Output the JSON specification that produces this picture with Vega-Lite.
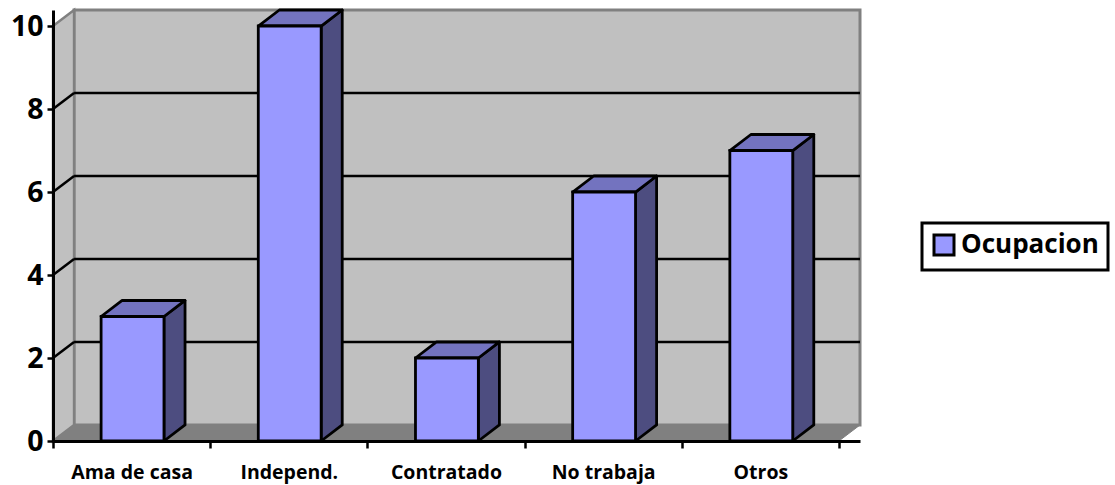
{
 "$schema":"https://vega.github.io/schema/vega-lite/v6.json",
 "autosize":{"type":"none"},
 "padding":{"left":53,"top":10,"right":255,"bottom":44},
 "width":807,"height":431,
 "background":"white",
 "config":{"view":{"stroke":null},"font":"Lato",
  "legend":{"strokeColor":"black","strokeWidth":3,"fillColor":"white"}},
 "datasets":{"depth":[{"d":0},{"d":1}],"ticks":[{"t":2},{"t":4},{"t":6},{"t":8}]},
 "data":{"values":[
  {"categoria":"Ama de casa","valor":3},
  {"categoria":"Independ.","valor":10},
  {"categoria":"Contratado","valor":2},
  {"categoria":"No trabaja","valor":6},
  {"categoria":"Otros","valor":7}]},
 "transform":[{"window":[{"op":"row_number","as":"n"}]},{"calculate":"datum.n-1","as":"idx"}],
 "layer":[
  {"data":{"values":[{"a":1}]},
   "mark":{"type":"rect","fill":"#C0C0C0","stroke":"#808080","strokeWidth":3},
   "encoding":{
    "x":{"datum":0.134,"type":"quantitative","scale":{"domain":[0,5.134],"nice":false,"zero":false},
     "axis":{"title":null,"values":[0,0.5,1,1.5,2,2.5,3,3.5,4,4.5,5],"grid":false,"domainColor":"black","domainWidth":3,"tickColor":"black","tickWidth":2.5,"tickSize":7,
      "tickOpacity":{"expr":"datum.value % 1 == 0 ? 1 : 0"},
      "labelExpr":"datum.value % 1 == 0 ? '' : ['Ama de casa','Independ.','Contratado','No trabaja','Otros'][floor(datum.value)]",
      "labelFont":"Open Sans","labelFontWeight":"bold","labelFontSize":19.5,"labelColor":"black","labelPadding":15,"labelOverlap":false,"labelBound":false,"labelFlush":false,"zindex":1}},
    "x2":{"datum":5.134},
    "y":{"datum":0.386,"type":"quantitative","scale":{"domain":[0,10.386],"nice":false,"zero":false},
     "axis":{"title":null,"values":[0,2,4,6,8,10],"grid":false,"domainColor":"black","domainWidth":3,"tickColor":"black","tickWidth":2.5,"tickSize":6,
      "labelFont":"Open Sans","labelFontWeight":"bold","labelFontSize":28.5,"labelColor":"black","labelPadding":4,"labelOverlap":false,"labelBound":false,"labelFlush":false,"zindex":1}},
    "y2":{"datum":10.386}}},
  {"data":{"name":"depth"},
   "transform":[{"calculate":"datum.d*0.134","as":"x"},{"calculate":"10+datum.d*0.386","as":"y1"},{"calculate":"datum.d*0.386","as":"y0"}],
   "mark":{"type":"area","orient":"vertical","fill":"#C0C0C0","stroke":"#808080","strokeWidth":2.5},
   "encoding":{"x":{"field":"x","type":"quantitative"},"y":{"field":"y1","type":"quantitative"},"y2":{"field":"y0"}}},
  {"data":{"name":"depth"},
   "transform":[{"calculate":"datum.d*0.134","as":"x0"},{"calculate":"5+datum.d*0.134","as":"x1"},{"calculate":"datum.d*0.386","as":"y"}],
   "mark":{"type":"area","orient":"horizontal","fill":"#808080","stroke":"#808080","strokeWidth":1},
   "encoding":{"x":{"field":"x0","type":"quantitative"},"x2":{"field":"x1"},"y":{"field":"y","type":"quantitative"}}},
  {"data":{"name":"ticks"},
   "transform":[{"calculate":"datum.t+0.386","as":"b"}],
   "mark":{"type":"rule","color":"black","strokeWidth":2.5},
   "encoding":{"x":{"datum":0.134,"type":"quantitative"},"x2":{"datum":5.134},"y":{"field":"b","type":"quantitative"}}},
  {"data":{"name":"ticks"},
   "transform":[{"calculate":"datum.t+0.386","as":"b"}],
   "mark":{"type":"rule","color":"black","strokeWidth":2.5},
   "encoding":{"x":{"datum":0,"type":"quantitative"},"x2":{"datum":0.134},"y":{"field":"t","type":"quantitative"},"y2":{"field":"b"}}},
  {"transform":[{"calculate":"0","as":"f"},{"calculate":"1","as":"b"},{"fold":["f","b"],"as":["k","d"]},
    {"calculate":"datum.idx+0.706+datum.d*0.134","as":"x"},{"calculate":"datum.valor+datum.d*0.386","as":"y1"},{"calculate":"datum.d*0.386","as":"y0"}],
   "mark":{"type":"area","orient":"vertical","fill":"#4D4D80","stroke":"black","strokeWidth":2.8,"strokeJoin":"round"},
   "encoding":{"x":{"field":"x","type":"quantitative"},"y":{"field":"y1","type":"quantitative"},"y2":{"field":"y0"},"detail":{"field":"categoria"}}},
  {"transform":[{"calculate":"0","as":"f"},{"calculate":"1","as":"b"},{"fold":["f","b"],"as":["k","d"]},
    {"calculate":"datum.idx+0.306+datum.d*0.134","as":"x0"},{"calculate":"datum.idx+0.706+datum.d*0.134","as":"x1"},{"calculate":"datum.valor+datum.d*0.386","as":"y"}],
   "mark":{"type":"area","orient":"horizontal","fill":"#7373BF","stroke":"black","strokeWidth":2.8,"strokeJoin":"round"},
   "encoding":{"x":{"field":"x0","type":"quantitative"},"x2":{"field":"x1"},"y":{"field":"y","type":"quantitative"},"detail":{"field":"categoria"}}},
  {"transform":[{"calculate":"datum.idx+0.306","as":"x0"},{"calculate":"datum.idx+0.706","as":"x1"},{"calculate":"0","as":"y0"}],
   "mark":{"type":"rect","stroke":"black","strokeWidth":2.8},
   "encoding":{"x":{"field":"x0","type":"quantitative"},"x2":{"field":"x1"},"y":{"field":"valor","type":"quantitative"},"y2":{"field":"y0"},
    "fill":{"datum":"Ocupacion","type":"nominal","scale":{"range":["#9999FF"]},
     "legend":{"title":null,"orient":"none","legendX":869,"legendY":213,"padding":9,"symbolType":"square","symbolSize":400,"symbolStrokeColor":"black","symbolStrokeWidth":3,"symbolOpacity":1,"labelFont":"Open Sans","labelFontWeight":"bold","labelFontSize":26,"labelColor":"black","labelOffset":4}}}}
 ]
}
